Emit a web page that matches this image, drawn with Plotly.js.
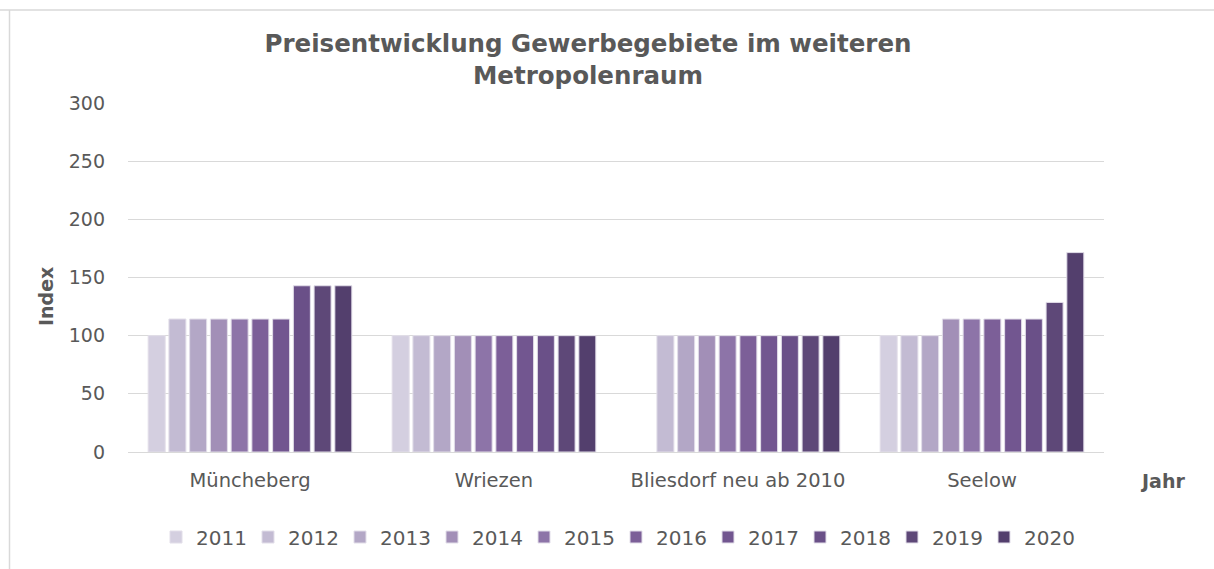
<!DOCTYPE html>
<html>
<head>
<meta charset="utf-8">
<script src="https://cdn.plot.ly/plotly-3.0.1.min.js"></script>
<style>html,body{margin:0;padding:0;background:#fff;}#chart{width:1214px;height:569px;}</style>
</head>
<body>
<div id="chart"></div>
<script>
const categories = ["Müncheberg", "Wriezen", "Bliesdorf neu ab 2010", "Seelow"];
const years = ["2011","2012","2013","2014","2015","2016","2017","2018","2019","2020"];
const v2011 = [100, 100, null, 100];
const v2012 = [114.3, 100, 100, 100];
const v2013 = [114.3, 100, 100, 100];
const v2014 = [114.3, 100, 100, 114.3];
const v2015 = [114.3, 100, 100, 114.3];
const v2016 = [114.3, 100, 100, 114.3];
const v2017 = [114.3, 100, 100, 114.3];
const v2018 = [142.9, 100, 100, 114.3];
const v2019 = [142.9, 100, 100, 128.6];
const v2020 = [142.9, 100, 100, 171.4];
const seriesValues = [v2011, v2012, v2013, v2014, v2015, v2016, v2017, v2018, v2019, v2020];
const colors = ["#d4cfe0","#c3bbd3","#b3a7c6","#a28fb7","#8d74a8","#7c5f98","#725690","#6a5088","#5e4878","#533f6d"];

const txt = "#595959";
const font = "'DejaVu Sans', Verdana, sans-serif";

const traces = years.map((y, i) => ({
  type: "bar",
  name: y,
  x: categories,
  y: seriesValues[i],
  marker: {color: colors[i], line: {color: "#e2dee9", width: 1}},
  hoverinfo: "x+y+name"
}));

const L = 128, R = 1104, T = 103, B = 452;
const px = x => (x - L) / (R - L);
const py = y => (B - y) / (B - T);

const layout = {
  width: 1214, height: 569,
  margin: {l: L, r: 1214 - R, t: T, b: 569 - B},
  paper_bgcolor: "#fff", plot_bgcolor: "#fff",
  font: {family: font, color: txt, size: 19},
  title: {
    text: "<b>Preisentwicklung Gewerbegebiete im weiteren<br>Metropolenraum</b>",
    font: {family: font, size: 24.5, color: txt},
    x: 588 / 1214, xanchor: "center", xref: "container",
    y: 1 - 52 / 569, yanchor: "middle", yref: "container"
  },
  barmode: "group",
  bargap: 0.15,
  bargroupgap: 0.18,
  xaxis: {
    type: "category",
    showgrid: false, showline: false, zeroline: false,
    ticks: "", tickfont: {family: font, size: 19.5, color: txt},
    ticklabelstandoff: 14
  },
  yaxis: {
    range: [0, 300], dtick: 50, tick0: 0,
    showgrid: true, gridcolor: "#d9d9d9", gridwidth: 1,
    zeroline: true, zerolinecolor: "#d9d9d9", zerolinewidth: 1,
    showline: false, ticks: "",
    tickfont: {family: font, size: 19, color: txt},
    ticklabelstandoff: 22
  },
  showlegend: true,
  legend: {
    orientation: "h",
    x: 0.5, xanchor: "center",
    y: py(537), yanchor: "middle",
    font: {family: font, size: 20, color: txt},
    traceorder: "normal",
    itemwidth: 30,
    entrywidth: 47, entrywidthmode: "pixels"
  },
  annotations: [
    {text: "<b>Index</b>", xref: "paper", yref: "paper", x: px(46), y: py(297),
     textangle: -90, showarrow: false, font: {family: font, size: 19, color: txt},
     xanchor: "center", yanchor: "middle"},
    {text: "<b>Jahr</b>", xref: "paper", yref: "paper", x: px(1162), y: py(481),
     showarrow: false, font: {family: font, size: 19, color: txt},
     xanchor: "center", yanchor: "middle"}
  ],
  shapes: [
    {type: "path", xref: "paper", yref: "paper",
     path: `M ${px(-20)} ${py(10)} L ${px(1240)} ${py(10)} M ${px(9.5)} ${py(10)} L ${px(9.5)} ${py(600)}`,
     line: {color: "#d9d9d9", width: 1.5}, layer: "below"}
  ]
};

Plotly.newPlot("chart", traces, layout, {displayModeBar: false, responsive: false});
</script>
</body>
</html>
